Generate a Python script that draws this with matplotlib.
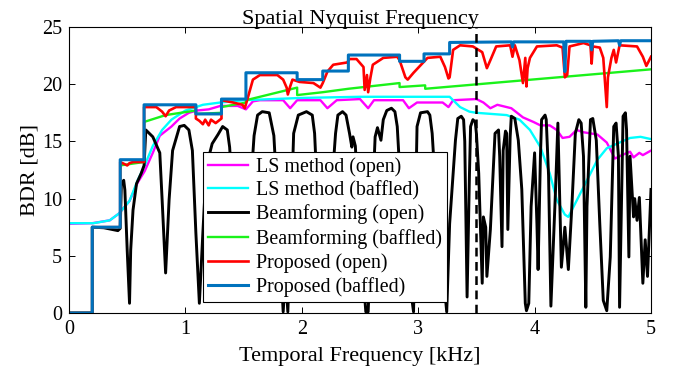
import numpy as np
import matplotlib
matplotlib.use("Agg")
import matplotlib.pyplot as plt

plt.rcParams['font.family'] = ['Liberation Serif', 'DejaVu Serif']
plt.rcParams['mathtext.fontset'] = 'stix'

# LS method (open)
ls_open_f = [0, 0.2, 0.35, 0.43, 0.52, 0.59, 0.65, 0.72, 0.78, 0.88, 0.95, 1.03, 1.1, 1.2, 1.3, 1.45, 1.52, 1.58,
             1.64, 1.84, 1.90, 1.96, 2.16, 2.22, 2.3, 2.5, 2.57, 2.62, 2.87, 2.92, 2.99, 3.21, 3.26, 3.30, 3.50, 3.56,
             3.62, 3.68, 3.80, 3.90, 3.99, 4.05, 4.13, 4.19, 4.24, 4.30, 4.36, 4.42, 4.54, 4.62, 4.69, 4.75, 4.82,
             4.85, 4.90, 4.93, 5.0]
ls_open_v = [7.8, 7.85, 8.1, 8.7, 9.8, 11.4, 12.4, 14.0, 15.5, 16.3, 17.0, 17.5, 17.7, 17.8, 18.1, 18.1, 17.8, 18.5,
             18.6, 18.6, 17.9, 18.6, 18.6, 17.9, 18.6, 18.7, 17.9, 18.6, 18.6, 17.9, 18.4, 18.4, 18.0, 18.6, 18.7, 18.4,
             17.9, 18.2, 17.9, 17.1, 16.7, 16.4, 16.4, 16.0, 15.3, 15.4, 16.0, 15.8, 15.6, 14.9, 13.5, 13.8, 14.1,
             13.6, 14.0, 13.8, 14.2]

# LS method (baffled)
ls_baf_f = [0, 0.21, 0.35, 0.43, 0.52, 0.59, 0.65, 0.72, 0.8, 0.88, 1.0, 1.15, 1.3, 1.5, 2.0, 2.5, 3.27, 3.36,
            3.44, 3.5, 3.76, 3.87, 3.96, 4.05, 4.13, 4.19, 4.26, 4.29, 4.33, 4.42, 4.54, 4.62, 4.73, 4.82, 4.91, 5.0]
ls_baf_v = [7.85, 7.85, 8.1, 8.7, 9.8, 11.6, 12.9, 14.6, 16.0, 16.9, 17.7, 18.2, 18.4, 18.6, 18.8, 18.9, 18.9, 18.0,
            17.6, 17.5, 17.3, 16.9, 16.0, 14.5, 12.2, 9.9, 8.6, 8.4, 9.2, 11.0, 13.4, 14.4, 14.9, 15.3, 15.4, 15.2]

# Beamforming (open)
bf_open_f = [0, 0.2, 0.2, 0.3, 0.42, 0.44, 0.45, 0.47, 0.48, 0.50, 0.52, 0.53, 0.55, 0.58, 0.62, 0.645, 0.66,
             0.72, 0.78, 0.80, 0.83, 0.86, 0.89, 0.95, 0.99, 1.03, 1.06, 1.09, 1.12, 1.15, 1.18, 1.23, 1.28, 1.32,
             1.36, 1.38, 1.41, 1.46, 1.52, 1.56, 1.59, 1.62, 1.66, 1.72, 1.76, 1.79, 1.83, 1.84, 1.86, 1.88, 1.90,
             1.93, 1.97, 2.04, 2.09, 2.11, 2.14, 2.19, 2.25, 2.29, 2.31, 2.35, 2.38, 2.41, 2.43, 2.44, 2.46, 2.50,
             2.55, 2.57, 2.60, 2.63, 2.65, 2.68, 2.70, 2.73, 2.77, 2.80, 2.82, 2.86, 2.91, 2.96, 2.99, 3.02, 3.08,
             3.10, 3.12, 3.16, 3.21, 3.245, 3.27, 3.32, 3.34, 3.37, 3.39, 3.40, 3.42, 3.44, 3.45, 3.47, 3.49, 3.50,
             3.52, 3.55, 3.56, 3.58, 3.59, 3.62, 3.66, 3.69, 3.70, 3.72, 3.73, 3.75, 3.76, 3.77, 3.79, 3.80, 3.83,
             3.86, 3.89, 3.92, 3.93, 3.95, 3.97, 4.00, 4.02, 4.03, 4.05, 4.06, 4.09, 4.10, 4.12, 4.14, 4.18, 4.20,
             4.23, 4.26, 4.29, 4.32, 4.35, 4.38, 4.40, 4.42, 4.44, 4.45, 4.48, 4.50, 4.53, 4.56, 4.59, 4.62, 4.65,
             4.68, 4.70, 4.72, 4.73, 4.76, 4.78, 4.79, 4.81, 4.82, 4.85, 4.86, 4.88, 4.90, 4.93, 4.95, 4.97, 5.0]
bf_open_v = [0, 0, 7.5, 7.45, 7.2, 7.4, 11.3, 11.6, 10.75, 5.5, 0.85, 5.5, 9.0, 11.3, 12.2, 12.9, 16.0,
             15.4, 14.0, 9.9, 3.5, 9.9, 14.2, 16.3, 16.4, 16.0, 14.2, 7.0, 0.85, 7.0, 12.8, 14.8, 15.6, 16.3,
             16.0, 14.5, 9.9, 3.0, 4.0, 11.0, 15.5, 17.3, 17.6, 17.5, 15.5, 10.0, 2.0, 0.1, 3.5, 0.1, 6.0,
             15.7, 17.3, 17.6, 17.3, 15.7, 9.0, 3.0, 10.0, 15.7, 17.3, 17.6, 17.3, 15.7, 14.5, 15.4, 14.6, 7.0,
             0.1, 0.1, 8.0, 15.4, 16.2, 15.1, 16.9, 17.7, 17.9, 17.6, 16.3, 9.0, 4.0, 0.1, 16.3, 17.5, 17.6,
             17.3, 15.7, 9.0, 4.0, 0.1, 7.8, 15.1, 17.0, 17.2, 16.9, 15.0, 1.4, 12.0, 16.3, 16.9, 16.7, 15.7,
             12.2, 2.6, 8.4, 7.5, 3.2, 7.3, 15.7, 16.0, 13.7, 5.8, 14.2, 15.9, 15.7, 7.3, 15.4, 17.2, 17.0,
             15.1, 10.8, 0.85, 0.2, 0.85, 9.3, 14.0, 7.8, 3.8, 13.7, 16.9, 17.3, 16.9, 12.0, 0.6, 10.8, 16.6,
             4.0, 7.5, 3.8, 9.3, 15.7, 16.9, 16.6, 13.7, 0.5, 9.3, 16.9, 17.0, 15.1, 7.8, 1.1, 0.2, 4.9,
             16.3, 16.6, 13.7, 0.5, 17.2, 17.5, 16.0, 4.9, 13.7, 8.4, 10.0, 8.1, 10.1, 2.6, 6.4, 3.2, 10.8]

# Beamforming (baffled)
bf_baf_f = [0, 0.2, 0.2, 0.44, 0.44, 0.645, 0.645, 0.83, 1.09, 1.09, 1.31, 1.31, 1.52, 1.52, 1.96, 1.96, 2.18,
            2.4, 2.84, 2.84, 3.06, 3.06, 5.0]
bf_baf_v = [0, 0, 7.5, 7.5, 12.9, 13.2, 16.7, 17.3, 17.7, 17.4, 17.5, 18.0, 18.4, 18.6, 19.7, 19.05, 19.3,
            19.6, 20.1, 19.75, 19.9, 19.6, 21.3]

# Proposed (open)
pr_open_f = [0, 0.2, 0.2, 0.44, 0.44, 0.5, 0.52, 0.55, 0.645, 0.645, 0.75, 0.80, 0.83, 0.86, 0.92, 1.09, 1.09,
             1.12, 1.15, 1.17, 1.2, 1.22, 1.26, 1.31, 1.31, 1.41, 1.49, 1.51, 1.53, 1.58, 1.64, 1.79, 1.84, 1.87,
             1.88, 1.90, 1.92, 1.98, 2.1, 2.16, 2.18, 2.22, 2.27, 2.39, 2.41, 2.47, 2.53, 2.54, 2.56, 2.57, 2.59,
             2.61, 2.70, 2.82, 2.84, 2.89, 2.91, 2.96, 3.08, 3.19, 3.23, 3.26, 3.27, 3.30, 3.36, 3.47, 3.55, 3.59,
             3.62, 3.67, 3.79, 3.81, 3.83, 3.87, 3.90, 3.92, 3.93, 3.94, 3.96, 4.02, 4.19, 4.24, 4.26, 4.28, 4.30,
             4.42, 4.48, 4.49, 4.50, 4.56, 4.59, 4.62, 4.63, 4.66, 4.68, 4.70, 4.73, 4.88, 4.93, 4.96, 5.0]
pr_open_v = [0, 0, 7.5, 7.5, 13.2, 12.9, 13.1, 13.2, 13.2, 18.0, 18.0, 17.6, 17.2, 17.7, 18.0, 18.0, 17.0,
             16.8, 16.5, 16.9, 16.4, 16.9, 16.6, 17.0, 18.6, 18.4, 18.2, 17.9, 18.6, 20.4, 20.8, 20.8, 20.4, 19.7,
             19.1, 19.8, 20.4, 20.2, 20.1, 19.7, 20.1, 21.1, 21.7, 21.9, 22.2, 22.2, 21.5, 19.5, 20.8, 19.3, 20.6,
             21.7, 22.3, 22.4, 22.1, 20.6, 20.4, 21.0, 22.3, 22.4, 21.5, 20.5, 20.6, 23.0, 23.4, 23.3, 22.8, 21.4,
             22.1, 23.3, 23.4, 22.4, 23.4, 22.1, 20.1, 22.3, 19.8, 21.4, 22.3, 23.3, 23.4, 23.2, 20.6, 20.8, 23.3,
             23.6, 23.4, 21.8, 23.3, 23.2, 22.3, 18.0, 20.6, 22.3, 23.0, 21.9, 23.4, 23.3, 22.4, 21.6, 22.4]

# Proposed (baffled)
pr_baf_f = [0, 0.2, 0.2, 0.44, 0.44, 0.645, 0.645, 1.09, 1.09, 1.31, 1.31, 1.52, 1.52, 1.96, 1.96, 2.18, 2.18,
            2.40, 2.40, 2.84, 2.84, 3.05, 3.05, 3.27, 3.27, 3.80, 3.81, 3.82, 4.25, 4.26, 4.27, 4.48, 4.49, 4.50,
            4.72, 4.73, 4.74, 5.0]
pr_baf_v = [0, 0, 7.5, 7.5, 13.4, 13.4, 18.2, 18.2, 17.4, 17.4, 18.7, 18.7, 21.0, 21.0, 20.4, 20.4, 21.15,
            21.15, 22.55, 22.55, 22.0, 22.0, 22.65, 22.65, 23.65, 23.7, 23.25, 23.7, 23.7, 21.1, 23.75, 23.75, 23.0,
            23.75, 23.8, 23.4, 23.8, 23.8]

nyquist = 3.5

fig = plt.figure(figsize=(6.78, 3.81), dpi=100)
ax = fig.add_axes([69 / 678, 1 - 313 / 381, 582 / 678, 286 / 381])

ax.plot(ls_open_f, ls_open_v, color=(1, 0, 1), lw=1.7, label='LS method (open)')
ax.plot(ls_baf_f, ls_baf_v, color=(0, 1, 1), lw=1.7, label='LS method (baffled)')
ax.plot(bf_open_f, bf_open_v, color='k', lw=2.1, label='Beamforming (open)')
ax.plot(bf_baf_f, bf_baf_v, color=(0.1, 0.95, 0.1), lw=1.7, label='Beamforming (baffled)')
ax.plot(pr_open_f, pr_open_v, color=(1, 0, 0), lw=1.9, label='Proposed (open)')
ax.plot(pr_baf_f, pr_baf_v, color=(0, 0.447, 0.741), lw=2.2, label='Proposed (baffled)')
ax.axvline(nyquist, color='k', lw=1.8, ls=(0, (3.5, 2.2)))

ax.set_xlim(0, 5)
ax.set_ylim(0, 25)
ax.set_xticks(range(6))
ax.set_yticks(range(0, 26, 5))
ax.tick_params(direction='in', top=True, right=True, labelsize=14.5, length=4, width=0.7, pad=5)
for s in ax.spines.values():
    s.set_linewidth(0.8)
ax.set_xlabel('Temporal Frequency [kHz]', fontsize=16, labelpad=6)
ax.set_ylabel('BDR [dB]', fontsize=16, labelpad=2)
ax.set_title('Spatial Nyquist Frequency', fontsize=16, pad=2)

leg = ax.legend(loc='upper left', bbox_to_anchor=((203 - 69) / 582, (313 - 152) / 286), fontsize=14.4,
                frameon=True, fancybox=False, edgecolor='k', framealpha=1, borderpad=0.25,
                labelspacing=0.21, handlelength=2.0, handletextpad=0.4, borderaxespad=0)
leg.get_frame().set_linewidth(0.8)

fig.savefig('out.png', dpi=100)
